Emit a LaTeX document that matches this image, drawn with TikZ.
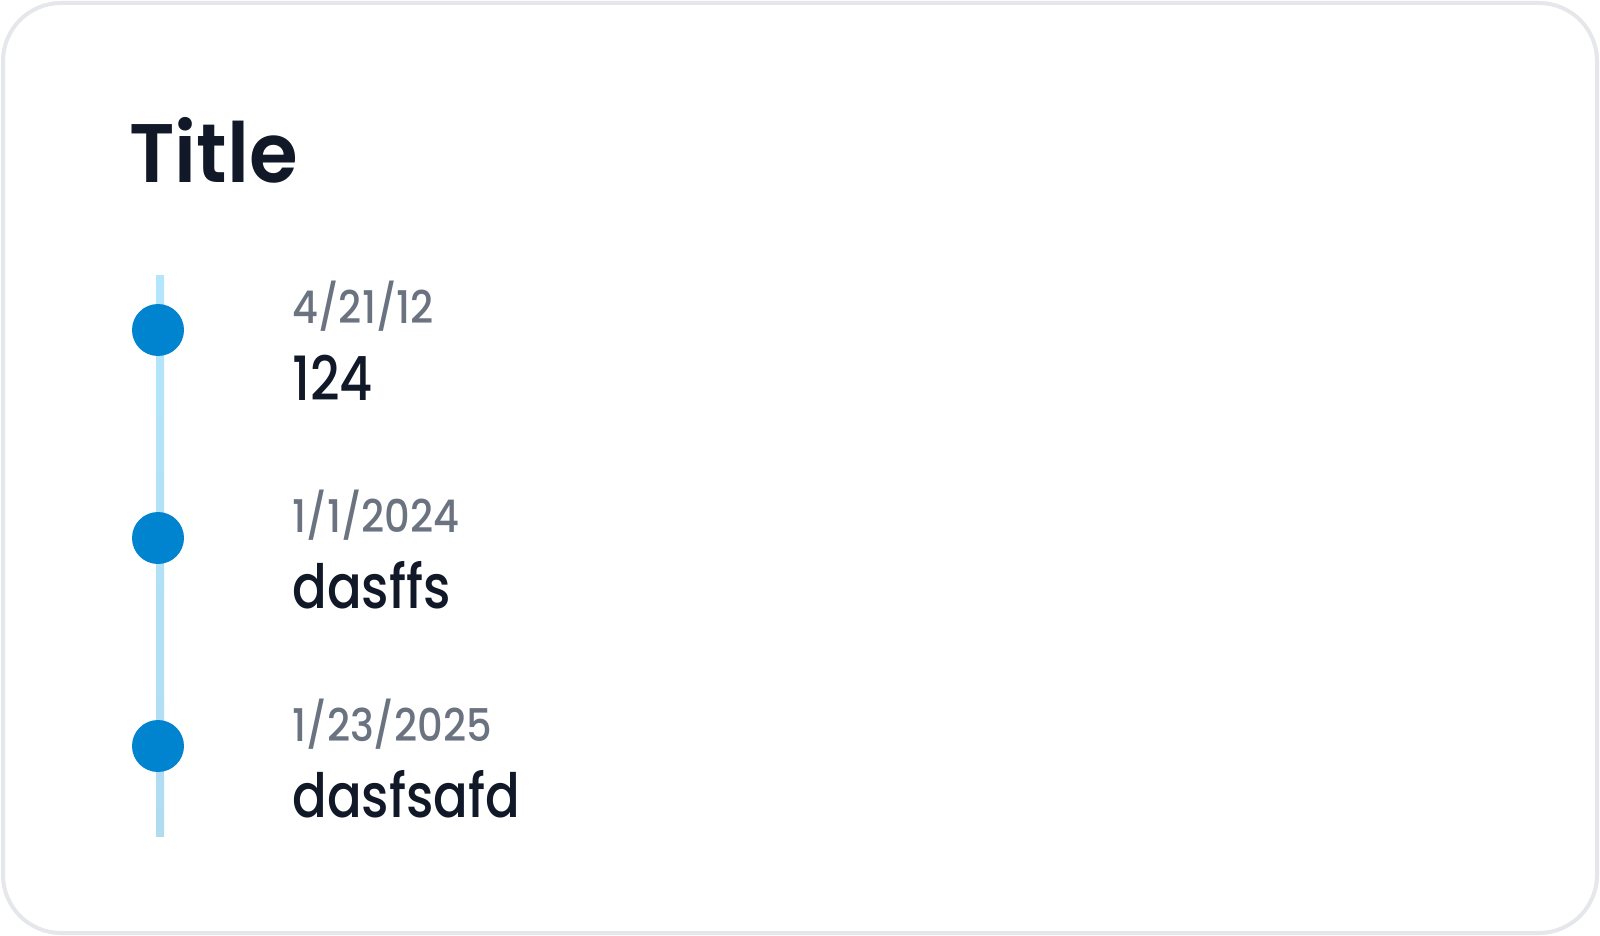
\documentclass[tikz,border=0pt]{standalone}
\usepackage{fontspec}
\setmainfont{Poppins}
\newfontfamily\titlefont{Poppins}[UprightFont=* SemiBold,FakeStretch=0.95]
\newfontfamily\mainfont{Poppins}[UprightFont=* Medium,FakeStretch=0.84]
\newfontfamily\datefont{Poppins}[UprightFont=* Medium,FakeStretch=0.89]
\definecolor{cardborder}{RGB}{229,231,235}
\definecolor{dotblue}{RGB}{0,132,208}
\definecolor{linetop}{RGB}{179,230,252}
\definecolor{linebot}{RGB}{176,220,242}
\definecolor{dategray}{RGB}{107,114,128}
\definecolor{inkdark}{RGB}{17,24,39}
\tikzset{
  dotnode/.style={circle,fill=dotblue,minimum size=26pt,inner sep=0pt},
  datetext/.style={anchor=base west,inner sep=0pt,text=dategray,font=\datefont\fontsize{22.5pt}{26pt}\selectfont},
  maintext/.style={anchor=base west,inner sep=0pt,text=inkdark,font=\mainfont\fontsize{30.5pt}{34pt}\selectfont},
  titletext/.style={anchor=base west,inner sep=0pt,text=inkdark,font=\titlefont\fontsize{41.5pt}{46pt}\selectfont},
  cardbox/.style={draw=cardborder,fill=white,line width=2pt,rounded corners=29pt}
}
\begin{document}
\begin{tikzpicture}[x=0.5pt,y=-0.5pt]
\useasboundingbox (0,0) rectangle (1600,936);
\draw[cardbox] (3,3) rectangle (1597,933);
\node[titletext] (title) at (129,183) {Title};
\coordinate (ltop) at (160,276);
\coordinate (lbot) at (160,836);
\shade[top color=linetop,bottom color=linebot] (156,276) rectangle (164,836);
\node[dotnode] (d1) at (158,330) {};
\node[dotnode] (d2) at (158,538) {};
\node[dotnode] (d3) at (158,746) {};
\node[datetext] (t1) at (292,323) {4/21/12};
\node[maintext] (m1) at (292,400) {124};
\node[datetext] (t2) at (292,532) {1/1/2024};
\node[maintext] (m2) at (292,608) {dasffs};
\node[datetext] (t3) at (292,741) {1/23/2025};
\node[maintext] (m3) at (292,817) {dasfsafd};
\end{tikzpicture}
\end{document}
